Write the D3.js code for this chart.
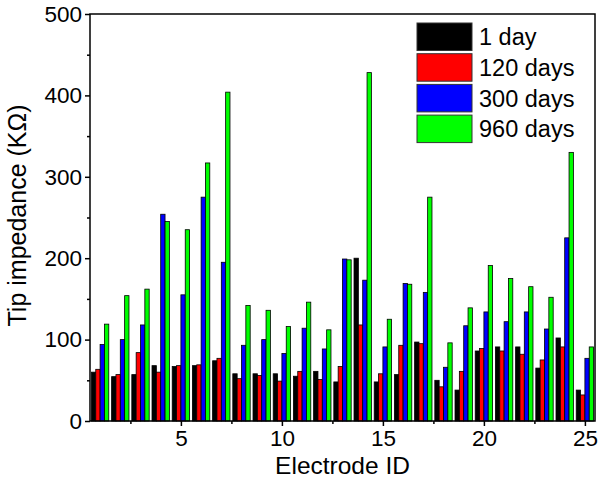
<!DOCTYPE html>
<html>
<head>
<meta charset="utf-8">
<script src="https://cdn.jsdelivr.net/npm/d3@7/dist/d3.min.js"></script>
<style>
  html, body { margin: 0; padding: 0; background: #fff; }
  svg { display: block; }
  text { font-family: "Liberation Sans", Arial, sans-serif; fill: #000; }
</style>
</head>
<body>
<svg id="chart" width="600" height="481"></svg>
<script>
const electrodes = d3.range(1, 26);
const seriesNames = ["1 day", "120 days", "300 days", "960 days"];
const seriesColors = ["#000000", "#ff0000", "#0000ff", "#00ff00"];
const day1   = [60, 54.5, 57, 68, 67, 68, 74, 58, 58, 58, 55, 61, 48, 200, 48, 57, 97, 50, 38, 86, 91, 91, 65, 102, 38];
const day120 = [63.5, 57, 84, 60, 68, 69, 77, 52, 56, 49, 61, 51, 67, 118, 58, 93, 95, 42, 61, 89, 86, 82, 75, 91, 32];
const day300 = [94, 100, 118, 254, 155, 275, 195, 93, 100, 83, 114, 88.5, 199, 173, 91, 169, 158, 66, 117, 134, 122, 134, 113, 225, 77];
const day960 = [119, 154, 162, 245, 235, 317, 404, 142, 136, 116, 146, 112, 198, 428, 125, 168, 275, 96, 139, 191, 175, 165, 152, 330, 91];
const seriesValues = [day1, day120, day300, day960];
const xTicks = [5, 10, 15, 20, 25];
const yTicks = [0, 100, 200, 300, 400, 500];

const svg = d3.select("#chart");
const L = 90, R = 595, T = 14, B = 421;

const x = d3.scaleLinear().domain([0.5, 25.5]).range([L, R]);
const y = d3.scaleLinear().domain([0, 500]).range([B, T]);
const step = x(2) - x(1);
const inner = d3.scaleBand().domain(d3.range(4)).range([-step * 0.43, step * 0.43]).padding(0);

// bars
const g = svg.append("g");
seriesValues.forEach((vals, si) => {
  g.selectAll(null)
    .data(electrodes)
    .enter().append("rect")
    .attr("x", (d, i) => x(d) + inner(si))
    .attr("width", inner.bandwidth())
    .attr("y", (d, i) => y(vals[i]))
    .attr("height", (d, i) => y(0) - y(vals[i]))
    .attr("fill", seriesColors[si])
    .attr("stroke", "#000")
    .attr("stroke-width", 0.8);
});

// axes
const fontTick = 22.5;
const xAxis = d3.axisBottom(x).tickValues(xTicks).tickSize(5).tickPadding(4).tickFormat(d3.format("d"));
const xMinor = d3.axisBottom(x).tickValues(d3.range(2.5, 25.5, 5)).tickSize(3).tickFormat("");
const yAxis = d3.axisLeft(y).tickValues(yTicks).tickSize(5).tickPadding(3).tickFormat(d3.format("d"));
const yMinor = d3.axisLeft(y).tickValues(d3.range(50, 500, 100)).tickSize(3).tickFormat("");

function styleAxis(sel) {
  sel.select(".domain").remove();
  sel.selectAll("line").attr("stroke", "#000").attr("stroke-width", 1.5);
  sel.selectAll("text").style("font-size", fontTick + "px").style("font-family", '"Liberation Sans", Arial, sans-serif').attr("fill", "#000");
}
svg.append("g").attr("transform", `translate(0,${B})`).call(xAxis).call(styleAxis);
svg.append("g").attr("transform", `translate(0,${B})`).call(xMinor).call(styleAxis);
svg.append("g").attr("transform", `translate(${L},0)`).call(yAxis).call(styleAxis);
svg.append("g").attr("transform", `translate(${L},0)`).call(yMinor).call(styleAxis);

// frame
svg.append("rect").attr("x", L).attr("y", T).attr("width", R - L).attr("height", B - T)
  .attr("fill", "none").attr("stroke", "#000").attr("stroke-width", 1.5);

// titles
svg.append("text").attr("x", (L + R) / 2).attr("y", 474).attr("text-anchor", "middle")
  .style("font-size", "24.5px").text("Electrode ID");
svg.append("text").attr("transform", `translate(26,${(T + B) / 2 - 2}) rotate(-90)`).attr("text-anchor", "middle")
  .style("font-size", "25px").text("Tip impedance (KΩ)");

// legend
const lg = svg.append("g");
seriesNames.forEach((name, i) => {
  const yy = 23 + i * 30.7;
  lg.append("rect").attr("x", 417).attr("y", yy).attr("width", 55).attr("height", 27.5)
    .attr("fill", seriesColors[i]).attr("stroke", "#333").attr("stroke-width", 1);
  lg.append("text").attr("x", 479).attr("y", yy + 14).attr("dy", "0.35em")
    .style("font-size", "23.5px").text(name);
});
</script>
</body>
</html>
